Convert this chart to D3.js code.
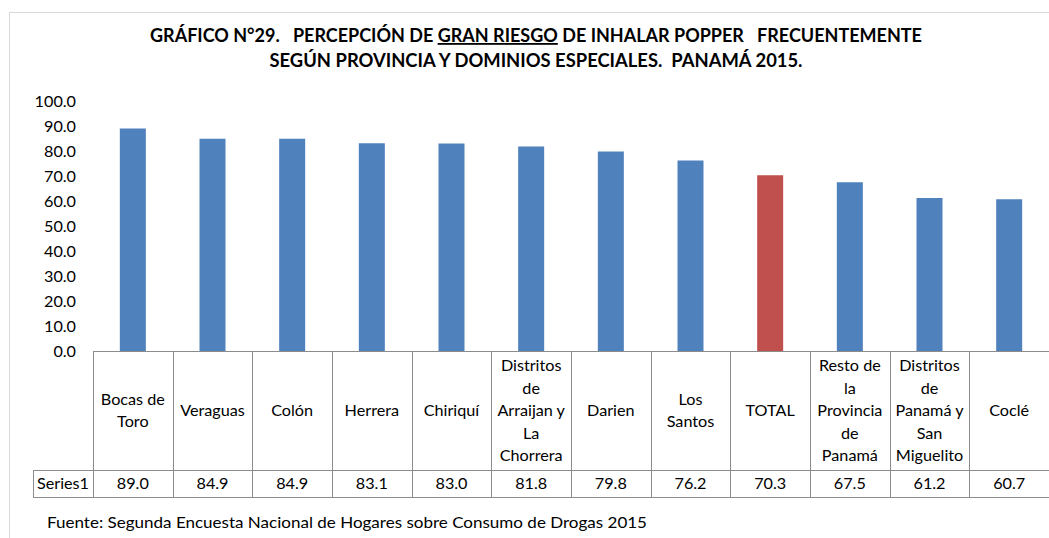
<!DOCTYPE html>
<html>
<head>
<meta charset="utf-8">
<script src="https://cdn.jsdelivr.net/npm/d3@7"></script>
<style>
  body { margin: 0; background: #fff; }
  text { font-family: Lato, "Open Sans", sans-serif; fill: #000; }
</style>
</head>
<body>
<div class="chart"></div>
<script>
const categories = [
  "Bocas de|Toro", "Veraguas", "Colón", "Herrera", "Chiriquí",
  "Distritos|de|Arraijan y|La|Chorrera", "Darien", "Los|Santos", "TOTAL",
  "Resto de|la|Provincia|de|Panamá", "Distritos|de|Panamá y|San|Miguelito", "Coclé"
];
const values = [89.0, 84.9, 84.9, 83.1, 83.0, 81.8, 79.8, 76.2, 70.3, 67.5, 61.2, 60.7];
const seriesName = "Series1";
const highlight = "TOTAL";
const yTicks = [0, 10, 20, 30, 40, 50, 60, 70, 80, 90, 100];

const width = 1049;
const height = 538;
const plot = { left: 93, right: 1049, top: 101, bottom: 351 };
const catRowBottom = 470;
const valRowBottom = 497;
const tableLeft = 33;
const lineColor = "#8c8c8c";
const fs = 16.2;

const svg = d3.select(".chart")
    .append("svg")
    .attr("width", width)
    .attr("height", height);

// outer chart border
svg.append("rect")
    .attr("x", 9.5).attr("y", 12.5)
    .attr("width", width + 20).attr("height", height + 20)
    .attr("fill", "none")
    .attr("stroke", "#d9d9d9");

// title
const title = svg.append("g").attr("font-weight", "bold");
const t1 = title.append("text")
    .attr("x", 536).attr("y", 42)
    .attr("text-anchor", "middle")
    .attr("font-size", 18)
    .attr("textLength", 772)
    .attr("lengthAdjust", "spacingAndGlyphs")
    .style("white-space", "pre");
t1.append("tspan").text("GRÁFICO N°29.   PERCEPCIÓN DE ");
t1.append("tspan").style("text-decoration", "underline").text("GRAN RIESGO");
t1.append("tspan").text(" DE INHALAR POPPER   FRECUENTEMENTE");
title.append("text")
    .attr("x", 536).attr("y", 67)
    .attr("text-anchor", "middle")
    .attr("font-size", 18)
    .attr("textLength", 533)
    .attr("lengthAdjust", "spacingAndGlyphs")
    .style("white-space", "pre")
    .text("SEGÚN PROVINCIA Y DOMINIOS ESPECIALES.  PANAMÁ 2015.");

const x = d3.scaleBand()
    .domain(categories)
    .range([plot.left, plot.right])
    .paddingInner(0)
    .paddingOuter(0);

const y = d3.scaleLinear()
    .domain([0, 100])
    .range([plot.bottom, plot.top]);

// y axis labels only
const gY = svg.append("g")
    .attr("transform", `translate(${plot.left}, 0)`)
    .call(d3.axisLeft(y).tickValues(yTicks).tickFormat(d3.format(".1f")).tickSize(0).tickPadding(17));
gY.select(".domain").remove();
gY.selectAll("text")
    .attr("font-family", "Lato")
    .attr("font-size", fs)
    .attr("fill", "#000");

// bars
const barW = 26;
svg.append("g").selectAll("rect")
    .data(values)
    .join("rect")
    .attr("x", (d, i) => x(categories[i]) + x.bandwidth() / 2 - barW / 2)
    .attr("y", d => y(d))
    .attr("width", barW)
    .attr("height", d => y(0) - y(d))
    .attr("fill", (d, i) => categories[i] === highlight ? "#c0504d" : "#4f81bd");

// data table
const table = svg.append("g")
    .attr("stroke", lineColor)
    .attr("stroke-width", 1)
    .attr("shape-rendering", "crispEdges");
table.append("line")
    .attr("x1", plot.left).attr("x2", plot.right)
    .attr("y1", plot.bottom + 0.5).attr("y2", plot.bottom + 0.5);
table.append("line")
    .attr("x1", tableLeft).attr("x2", plot.right)
    .attr("y1", catRowBottom).attr("y2", catRowBottom);
table.append("line")
    .attr("x1", tableLeft).attr("x2", plot.right)
    .attr("y1", valRowBottom).attr("y2", valRowBottom);
table.append("line")
    .attr("x1", tableLeft).attr("x2", tableLeft)
    .attr("y1", catRowBottom).attr("y2", valRowBottom);
table.selectAll("line.sep")
    .data(categories)
    .join("line")
    .attr("class", "sep")
    .attr("x1", d => Math.round(x(d)))
    .attr("x2", d => Math.round(x(d)))
    .attr("y1", plot.bottom)
    .attr("y2", valRowBottom);

// category labels
const lineH = 22.5;
const catMid = (plot.bottom + catRowBottom) / 2;
svg.append("g").selectAll("text")
    .data(categories)
    .join("text")
    .attr("text-anchor", "middle")
    .attr("font-size", fs)
    .each(function(d) {
        const lines = d.split("|");
        const el = d3.select(this);
        const top = catMid - (lines.length - 1) * lineH / 2;
        lines.forEach((ln, k) => {
            el.append("tspan")
                .attr("x", x(d) + x.bandwidth() / 2)
                .attr("y", top + k * lineH)
                .attr("dy", "0.35em")
                .text(ln);
        });
    });

// value row
const valMid = (catRowBottom + valRowBottom) / 2;
svg.append("text")
    .attr("x", (tableLeft + plot.left) / 2)
    .attr("y", valMid)
    .attr("dy", "0.35em")
    .attr("text-anchor", "middle")
    .attr("font-size", fs)
    .text(seriesName);
svg.append("g").selectAll("text")
    .data(values)
    .join("text")
    .attr("x", (d, i) => x(categories[i]) + x.bandwidth() / 2)
    .attr("y", valMid)
    .attr("dy", "0.35em")
    .attr("text-anchor", "middle")
    .attr("font-size", fs)
    .text(d => d3.format(".1f")(d));

// source
svg.append("text")
    .attr("x", 47).attr("y", 528)
    .attr("font-size", 15)
    .attr("textLength", 600)
    .attr("lengthAdjust", "spacingAndGlyphs")
    .text("Fuente: Segunda Encuesta Nacional de Hogares sobre Consumo de Drogas 2015");
</script>
</body>
</html>
